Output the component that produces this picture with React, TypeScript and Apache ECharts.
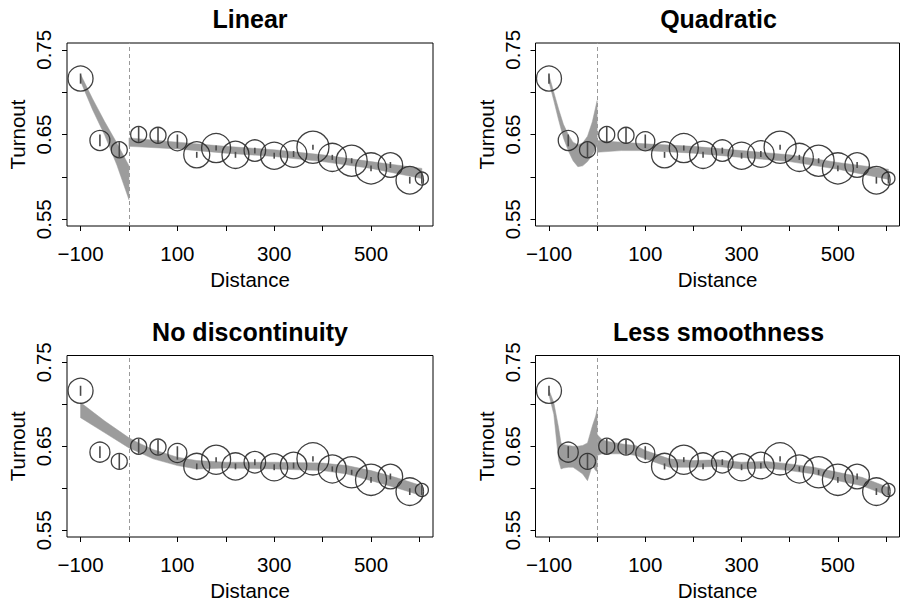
import React, { useEffect, useRef } from "react";
import * as echarts from "echarts";

// ---- bin data (same points in all four panels) ----
const binDistance = [-100, -60, -20, 20, 60, 100, 140, 180, 220, 260, 300, 340, 380, 420, 460, 500, 540, 580, 605];
const binTurnout = [0.716, 0.643, 0.632, 0.650, 0.649, 0.642, 0.626, 0.634, 0.626, 0.631, 0.625, 0.627, 0.635, 0.623, 0.619, 0.610, 0.614, 0.596, 0.598];
const binHalfCI = [0.006, 0.007, 0.009, 0.009, 0.009, 0.008, 0.0035, 0.003, 0.0035, 0.0035, 0.0035, 0.0035, 0.003, 0.003, 0.003, 0.0035, 0.0035, 0.004, 0.006];
const binWeight = [2.5, 2.0, 1.6, 1.6, 1.6, 1.9, 2.6, 2.9, 2.7, 2.15, 2.7, 2.65, 3.2, 2.8, 3.1, 3.1, 2.45, 2.75, 1.3];

// ---- fitted bands ----
const linLeftX = [-100, -75, -50, -25, 0];
const linLeftLo = [0.713, 0.679, 0.649, 0.614, 0.573];
const linLeftHi = [0.721, 0.692, 0.665, 0.640, 0.613];
const linRightX = [0, 100, 200, 300, 400, 500, 605];
const linRightLo = [0.636, 0.633, 0.628, 0.624, 0.618, 0.610, 0.598];
const linRightHi = [0.646, 0.641, 0.636, 0.632, 0.626, 0.618, 0.610];

const quadLeftX = [-100, -90, -80, -70, -60, -50, -40, -30, -20, -10, 0];
const quadLeftLo = [0.712, 0.690, 0.667, 0.646, 0.631, 0.619, 0.612, 0.613, 0.618, 0.626, 0.637];
const quadLeftHi = [0.720, 0.700, 0.680, 0.662, 0.650, 0.641, 0.638, 0.640, 0.648, 0.665, 0.690];
const quadRightX = [0, 50, 100, 200, 300, 400, 500, 605];
const quadRightLo = [0.629, 0.631, 0.631, 0.628, 0.623, 0.618, 0.609, 0.597];
const quadRightHi = [0.643, 0.641, 0.639, 0.636, 0.631, 0.626, 0.617, 0.609];

const contX = [-100, -50, 0, 20, 50, 100, 140, 200, 300, 400, 450, 500, 550, 605];
const contLo = [0.684, 0.666, 0.648, 0.643, 0.635, 0.627, 0.623, 0.624, 0.623, 0.621, 0.617, 0.609, 0.601, 0.591];
const contHi = [0.702, 0.680, 0.660, 0.654, 0.646, 0.637, 0.633, 0.631, 0.631, 0.630, 0.627, 0.621, 0.613, 0.603];

const lessLeftX = [-100, -90, -80, -75, -70, -60, -50, -40, -30, -20, -10, -3, 0];
const lessLeftLo = [0.711, 0.688, 0.633, 0.623, 0.624, 0.625, 0.625, 0.621, 0.617, 0.609, 0.627, 0.621, 0.620];
const lessLeftHi = [0.717, 0.702, 0.672, 0.654, 0.652, 0.651, 0.650, 0.650, 0.651, 0.654, 0.674, 0.686, 0.694];
const lessRightX = [0, 10, 20, 40, 60, 80, 100, 120, 150, 200, 250, 300, 350, 400, 450, 500, 550, 605];
const lessRightLo = [0.639, 0.641, 0.641, 0.641, 0.641, 0.639, 0.635, 0.631, 0.625, 0.625, 0.626, 0.623, 0.624, 0.621, 0.617, 0.609, 0.603, 0.591];
const lessRightHi = [0.664, 0.658, 0.656, 0.654, 0.652, 0.651, 0.645, 0.641, 0.635, 0.633, 0.634, 0.631, 0.632, 0.629, 0.625, 0.619, 0.613, 0.601];

// ---- axes ----
const xTicks = [-100, 0, 100, 200, 300, 400, 500, 600];
const xTickLabels = [-100, 100, 300, 500];
const yTicks = [0.55, 0.6, 0.65, 0.7, 0.75];
const yTickLabels = [0.55, 0.65, 0.75];
const cutoff = 0;

const panelTitles = ["Linear", "Quadratic", "No discontinuity", "Less smoothness"];

type Band = { x: number[]; lo: number[]; hi: number[] };
const panelBands: Band[][] = [
  [
    { x: linLeftX, lo: linLeftLo, hi: linLeftHi },
    { x: linRightX, lo: linRightLo, hi: linRightHi },
  ],
  [
    { x: quadLeftX, lo: quadLeftLo, hi: quadLeftHi },
    { x: quadRightX, lo: quadRightLo, hi: quadRightHi },
  ],
  [{ x: contX, lo: contLo, hi: contHi }],
  [
    { x: lessLeftX, lo: lessLeftLo, hi: lessLeftHi },
    { x: lessRightX, lo: lessRightLo, hi: lessRightHi },
  ],
];

const FONT = "'Liberation Sans', Arial, Helvetica, sans-serif";

const grids = [
  { left: 67, top: 43, width: 366, height: 183 },
  { left: 535.5, top: 43, width: 364, height: 183 },
  { left: 67, top: 355.5, width: 366, height: 183 },
  { left: 535.5, top: 355.5, width: 364, height: 183 },
];

function buildOption() {
  const grid: any[] = [];
  const xAxis: any[] = [];
  const yAxis: any[] = [];
  const series: any[] = [];
  const graphic: any[] = [];

  grids.forEach((g, i) => {
    grid.push({
      ...g,
      show: true,
      borderColor: "#000",
      borderWidth: 1,
      backgroundColor: "transparent",
      containLabel: false,
    });
    xAxis.push({
      type: "value",
      gridIndex: i,
      min: -128,
      max: 628,
      splitLine: { show: false },
      axisLine: { show: false, onZero: false },
      axisTick: {
        show: true,
        length: 5,
        customValues: xTicks,
        lineStyle: { color: "#000", width: 1 },
      },
      axisLabel: {
        customValues: xTickLabels,
        formatter: (v: number) => (v < 0 ? "\u2212" + Math.abs(v) : String(v)),
        fontSize: 20.5,
        fontFamily: FONT,
        color: "#000",
        margin: 17,
      },
      name: "Distance",
      nameLocation: "middle",
      nameGap: 43,
      nameTextStyle: { fontSize: 20.5, fontFamily: FONT, color: "#000" },
    });
    yAxis.push({
      type: "value",
      gridIndex: i,
      min: 0.542,
      max: 0.758,
      splitLine: { show: false },
      axisLine: { show: false, onZero: false },
      axisTick: {
        show: true,
        length: 5,
        customValues: yTicks,
        lineStyle: { color: "#000", width: 1 },
      },
      axisLabel: {
        customValues: yTickLabels,
        rotate: 90,
        formatter: (v: number) => v.toFixed(2),
        fontSize: 20.5,
        fontFamily: FONT,
        color: "#000",
        margin: 13,
      },
      name: "Turnout",
      nameLocation: "middle",
      nameGap: 39,
      nameRotate: 90,
      nameTextStyle: { fontSize: 20.5, fontFamily: FONT, color: "#000" },
    });

    // bands
    panelBands[i].forEach((b) => {
      const rows = b.x.map((x, k) => [x, b.lo[k], b.hi[k]]);
      series.push({
        type: "custom",
        xAxisIndex: i,
        yAxisIndex: i,
        clip: true,
        silent: true,
        z: 1,
        data: rows,
        encode: { x: 0, y: [1, 2] },
        renderItem: (params: any, api: any) => {
          if (params.dataIndex !== 0) return null;
          const pts: number[][] = [];
          for (let k = 0; k < rows.length; k++) pts.push(api.coord([rows[k][0], rows[k][2]]));
          for (let k = rows.length - 1; k >= 0; k--) pts.push(api.coord([rows[k][0], rows[k][1]]));
          return {
            type: "polygon",
            shape: { points: pts },
            style: { fill: "#9c9c9c", stroke: "#9c9c9c", lineWidth: 0.5 },
          };
        },
      });
    });

    // circles + cutoff line
    series.push({
      type: "scatter",
      xAxisIndex: i,
      yAxisIndex: i,
      z: 3,
      silent: true,
      data: binDistance.map((x, k) => [x, binTurnout[k], binWeight[k]]),
      symbol: "circle",
      symbolSize: (v: number[]) => v[2] * 10,
      itemStyle: { color: "rgba(0,0,0,0)", borderColor: "#2a2a2a", borderWidth: 1.3, opacity: 0.9 },
      markLine: {
        silent: true,
        symbol: "none",
        label: { show: false },
        lineStyle: { type: [4, 3], color: "#9a9a9a", width: 1 },
        data: [{ xAxis: cutoff }],
        z: 2,
      },
    });

    // bin interval ticks
    series.push({
      type: "custom",
      xAxisIndex: i,
      yAxisIndex: i,
      silent: true,
      z: 4,
      data: binDistance.map((x, k) => [x, binTurnout[k], binHalfCI[k]]),
      encode: { x: 0, y: 1 },
      renderItem: (_p: any, api: any) => {
        const x = api.value(0);
        const y = api.value(1);
        const e = api.value(2);
        const a = api.coord([x, y - e]);
        const b = api.coord([x, y + e]);
        return {
          type: "line",
          shape: { x1: a[0], y1: a[1], x2: b[0], y2: b[1] },
          style: { stroke: "#4a4a4a", lineWidth: 1.6 },
        };
      },
    });

    graphic.push({
      type: "text",
      x: g.left + g.width / 2 + (i % 2 === 1 ? 1 : 0),
      y: g.top - 24,
      style: {
        text: panelTitles[i],
        font: `bold 25px ${FONT}`,
        fill: "#000",
        align: "center",
        verticalAlign: "middle",
      },
    });
  });

  return {
    animation: false,
    backgroundColor: "#fff",
    grid,
    xAxis,
    yAxis,
    series,
    graphic,
  };
}

export default function App() {
  const ref = useRef<HTMLDivElement>(null);
  useEffect(() => {
    if (!ref.current) return;
    const chart = echarts.init(ref.current, undefined, { renderer: "svg" });
    chart.setOption(buildOption() as any);
    return () => chart.dispose();
  }, []);
  return (
    <div
      ref={ref}
      style={{ position: "fixed", left: 0, top: 0, width: 900, height: 602, background: "#fff" }}
    />
  );
}
